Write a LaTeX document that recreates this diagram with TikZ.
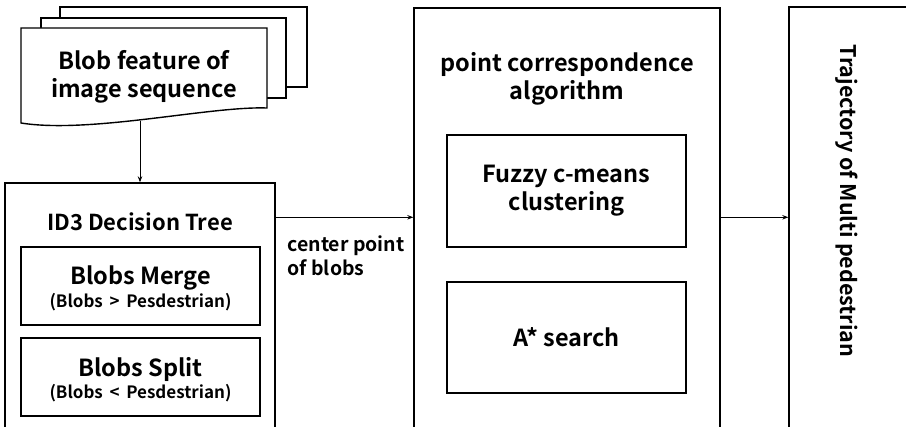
\documentclass[tikz,border=0pt]{standalone}
\usepackage{fontspec}
\setmainfont{Noto Sans CJK KR}[BoldFont={* Bold}]
\usetikzlibrary{arrows.meta, positioning}

\begin{document}
\begin{tikzpicture}[
  x=1pt, y=-1pt,
  block/.style={
    rectangle, draw, line width=1.4pt, fill=white, inner sep=0pt
  },
  page/.style={draw, line width=1.4pt, fill=white},
  title/.style={align=center, font=\fontsize{23.5}{28}\selectfont\bfseries},
  sub/.style={font=\fontsize{17}{20}\selectfont\bfseries},
  lbl/.style={align=left, font=\fontsize{19.5}{24}\selectfont\bfseries},
  arr/.style={-{Stealth[length=6pt, width=4.5pt]}, line width=0.9pt},
]

\useasboundingbox (0,0) rectangle (906,427);
\clip (0,0) rectangle (906,427);

%% ════════════════════════════════════════════════
%% INPUT — stacked document sheets
%% ════════════════════════════════════════════════

\draw[page] (60,7) rectangle (307,87);
\draw[page] (41,18) rectangle (286,98);
\draw[page] (21,28) -- (267,28) -- (267,108)
  .. controls (210,106) and (90,134) .. (21,123) -- cycle;

\node[title] (blobdoc) at (144,77) {Blob feature of\\image sequence};
\coordinate (docfoot) at (140,121);

%% ════════════════════════════════════════════════
%% STAGE 1 — decision tree
%% ════════════════════════════════════════════════

\node[block, minimum width=270pt, minimum height=277pt] (id3) at (140,321.5) {};
\node[title, font=\fontsize{22}{26}\selectfont\bfseries] (id3title) at (140,222) {ID3 Decision Tree};

\node[block, minimum width=239pt, minimum height=78pt] (merge) at (140.5,286) {};
\node[title] at ([yshift=8pt]merge.center) {Blobs Merge};
\node[sub] at ([yshift=-16pt]merge.center) {(Blobs \,\textgreater\, Pesdestrian)};

\node[block, minimum width=239pt, minimum height=78pt] (split) at (140.5,377) {};
\node[title] at ([yshift=8pt]split.center) {Blobs Split};
\node[sub] at ([yshift=-16pt]split.center) {(Blobs \,\textless\, Pesdestrian)};

%% ════════════════════════════════════════════════
%% STAGE 2 — point correspondence
%% ════════════════════════════════════════════════

\node[block, minimum width=306pt, minimum height=452pt] (pc) at (567,234) {};
\node[title] (pctitle) at (567,79) {point correspondence\\algorithm};

\node[block, minimum width=239pt, minimum height=112pt] (fcm) at (566.5,191) {};
\node[title] at (fcm.center) {Fuzzy c-means\\clustering};

\node[block, minimum width=239pt, minimum height=111pt] (astar) at (566.5,337.5) {};
\node[title] at (astar.center) {A* search};

%% ════════════════════════════════════════════════
%% OUTPUT — trajectories
%% ════════════════════════════════════════════════

\node[block, minimum width=171pt, minimum height=453pt] (traj) at (874.5,233.5) {};
\node[title, rotate=-90, font=\fontsize{21.5}{26}\selectfont\bfseries] (trajtitle) at (847,201) {Trajectory of Multi pedestrian};

%% ════════════════════════════════════════════════
%% CONNECTIONS
%% ════════════════════════════════════════════════

\path ([yshift=-35pt]id3.north east) coordinate (tap);

\draw[arr] (docfoot) -- (docfoot |- id3.north);
\draw[arr] (tap) -- (tap -| pc.west);
\draw[arr] (tap -| pc.east) -- (tap -| traj.west);

\node[lbl, anchor=west] (centerlbl) at (284,256) {center point\\of blobs};

\end{tikzpicture}
\end{document}
